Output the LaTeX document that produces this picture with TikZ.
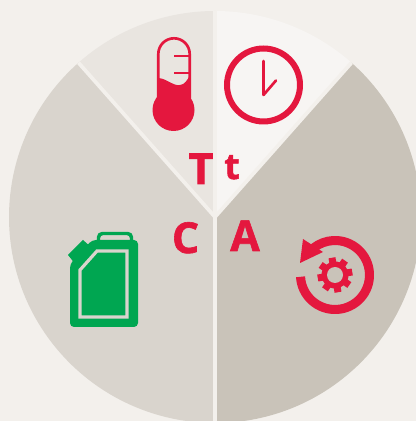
\documentclass[tikz,border=0pt]{standalone}
\usepackage{fontspec}
\setmainfont{Open Sans}
\definecolor{pagebg}{HTML}{F3F0EC}
\definecolor{wedgeTL}{HTML}{E9E5E0}
\definecolor{wedgeTR}{HTML}{F7F5F3}
\definecolor{wedgeL}{HTML}{D9D4CD}
\definecolor{wedgeR}{HTML}{C9C3B9}
\definecolor{iconred}{HTML}{E4173E}
\definecolor{icongreen}{HTML}{00A651}
\begin{document}
\begin{tikzpicture}[
  x=0.75pt,y=0.75pt,
  letter/.style={font=\fontsize{32}{33}\selectfont\bfseries\addfontfeature{FakeBold=1.4},text=iconred,anchor=base,inner sep=0pt},
  sep/.style={draw=pagebg,line width=2.8pt},
  redline/.style={draw=iconred,line width=2pt,line cap=round}
]
  \useasboundingbox (0,0) rectangle (416,421);
  \fill[pagebg] (0,0) rectangle (416,421);
  \begin{scope}
    \clip (0,0) rectangle (416,421);
    % slices
    \fill[wedgeL] (215,204) -- ++(131.5:206) arc[start angle=131.5,end angle=270,radius=206] -- cycle;
    \fill[wedgeR] (215,204) -- ++(-90:206) arc[start angle=-90,end angle=48.5,radius=206] -- cycle;
    \fill[wedgeTL] (215,204) -- ++(90:206) arc[start angle=90,end angle=131.5,radius=206] -- cycle;
    \fill[wedgeTR] (215,204) -- ++(48.5:206) arc[start angle=48.5,end angle=90,radius=206] -- cycle;
    \foreach \a in {48.5,90,131.5,270}{\draw[sep] (215,204) -- ++(\a:206);}
  \end{scope}
  % thermometer
  \fill[iconred] (173.5,311) circle[radius=21];
  \fill[iconred] (158.3,343) .. controls (168,342) and (172,335) .. (180,336) .. controls (185,336.5) and (187,341) .. (189.7,345) -- (189.7,320) -- (158.3,320) -- cycle;
  \draw[redline,line cap=butt] (158.3,323) -- (158.3,367) arc[start angle=180,end angle=0,radius=15.7] -- (189.7,323);
  \draw[redline,line cap=butt] (174,365) -- (189,365);
  \draw[redline,line cap=butt] (174,348) -- (189,348);
  % clock
  \draw[iconred,line width=4.5pt] (263.5,336) circle[radius=36.5];
  \draw[redline,line join=round] (263.5,360) -- (263.5,326) -- (276,340.5);
  % can
  \fill[icongreen,rounded corners=3pt] (70,94) -- (138,94) -- (138,181) -- (92,181) -- (70,157) -- cycle;
  \fill[icongreen] (68,166) -- (83,181) -- (92,173) -- (76,156) -- cycle;
  \draw[icongreen,line width=2.6pt,rounded corners=3pt] (98.5,178) -- (98.5,187.5) -- (131.5,187.5) -- (131.5,178);
  \draw[wedgeL,line width=2.4pt] (80,104) -- (80,151) -- (97,170) -- (127,170) -- (127,104) -- cycle;
  % refresh and gear
  \draw[iconred,line width=6.8pt] (335,146) ++(183:34.5) arc[start angle=183,end angle=489,radius=34.5];
  \fill[iconred] (300,158) -- (303,182) -- (323,169) -- cycle;
  \foreach \a in {10,55,...,325}{
    \fill[iconred,rotate around={\a:(335,146)}] (331.5,146) rectangle (338.5,163.5);
  }
  \fill[iconred] (335,146) circle[radius=13.5];
  \fill[wedgeR] (335,146) circle[radius=8];
  % letters
  \node[letter] (lblT) at (201,237) {T};
  \node[letter,font=\fontsize{27}{28}\selectfont\bfseries\addfontfeature{FakeBold=1.4}] (lblt) at (232,242) {t};
  \node[letter] (lblC) at (185.5,168) {C};
  \node[letter] (lblA) at (245,170) {A};
\end{tikzpicture}
\end{document}
